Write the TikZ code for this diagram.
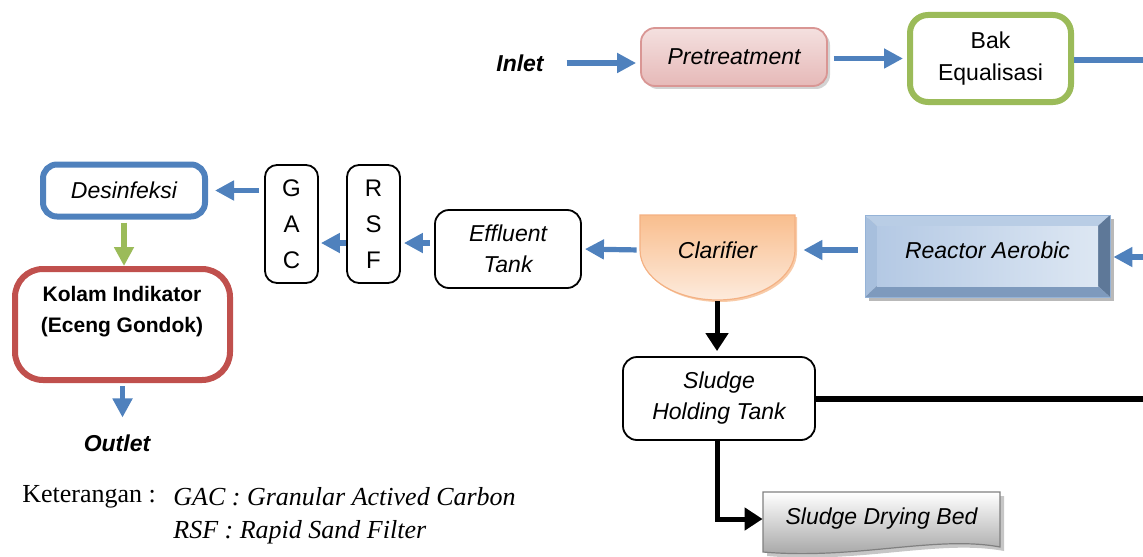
\documentclass[tikz,border=0pt]{standalone}
\usepackage{fontspec}
\setmainfont{Liberation Sans}
\newfontfamily\ketfont{Liberation Serif}
\usetikzlibrary{arrows.meta,shadows}

\definecolor{flowblue}{HTML}{4F81BD}
\definecolor{eqgreen}{HTML}{9BBB59}
\definecolor{kolamred}{HTML}{C0504D}
\definecolor{pinkborder}{HTML}{D99694}
\definecolor{pinktop}{HTML}{F4E0DF}
\definecolor{pinkbot}{HTML}{E6B9B8}
\definecolor{claredge}{HTML}{F4B183}
\definecolor{clarshadow}{HTML}{F8CBA8}
\definecolor{clardark}{HTML}{F9BE8E}
\definecolor{clarlight}{HTML}{FDEBDD}
\definecolor{reactop}{HTML}{B9CDE5}
\definecolor{reacleft}{HTML}{A7BFDD}
\definecolor{reacright}{HTML}{5E7898}
\definecolor{reacbot}{HTML}{7E9ABD}
\definecolor{reacfaceA}{HTML}{B4C9E4}
\definecolor{reacfaceB}{HTML}{DDE7F3}
\definecolor{reacedge}{HTML}{95B3D7}

\newcommand\procfont{\fontsize{11.5}{15.5}\selectfont\itshape}

\tikzset{
  flow/.style={draw=flowblue, line width=2.6pt, -{Triangle[length=9.5pt,width=9.5pt]}},
  flowline/.style={draw=flowblue, line width=2.6pt},
  sludge/.style={line width=2.5pt, -{Triangle[length=9pt,width=11pt]}},
  sludgeline/.style={line width=3pt},
  proc/.style={draw, line width=0.9pt, rounded corners=7pt, align=center, font=\procfont},
  thickbox/.style={line width=3pt, rounded corners=9pt, fill=white, align=center, font=\procfont},
  filter/.style={draw, line width=0.9pt, rounded corners=6pt, align=center,
    minimum width=26.5pt, minimum height=59pt, inner sep=0pt,
    font=\fontsize{12}{18}\selectfont},
  tag/.style={font=\fontsize{11.5}{14}\selectfont\bfseries\itshape},
  ket/.style={anchor=west, inner sep=0pt, font=\ketfont\fontsize{13}{16}\selectfont},
}

\begin{document}
\begin{tikzpicture}[x=0.5pt,y=-0.5pt]
    \useasboundingbox (0,0) rectangle (1143,556);

    % reactor (bevel)
    \fill[gray!55] (869,219) rectangle (1114,301);
    \fill[reacleft] (865,215) -- (877,226) -- (877,286) -- (865,297) -- cycle;
    \fill[reactop] (865,215) -- (1110,215) -- (1098,226) -- (877,226) -- cycle;
    \fill[reacright] (1110,215) -- (1110,297) -- (1098,286) -- (1098,226) -- cycle;
    \fill[reacbot] (865,297) -- (1110,297) -- (1098,286) -- (877,286) -- cycle;
    \shade[left color=reacfaceA, right color=reacfaceB] (877,226) rectangle (1098,286);
    \draw[reacedge] (865,215) rectangle (1110,297);

    % clarifier
    \fill[clarshadow] (642,217) -- (797,217) -- (797,252) arc[start angle=0,end angle=180,x radius=77.5,y radius=50] -- cycle;
    \shade[top color=clardark, bottom color=clarlight, draw=claredge, line width=0.6pt]
      (640,215) -- (795,215) -- (795,250) arc[start angle=0,end angle=180,x radius=77.5,y radius=50] -- cycle;

    % sludge drying bed
    \fill[gray!45] (767,496) -- (1004,496) -- (1004,551) .. controls (940,539) and (860,564) .. (767,556) -- cycle;
    \shade[top color=white, bottom color=gray!75, draw=gray, line width=0.6pt]
      (763,492) -- (1000,492) -- (1000,547) .. controls (936,535) and (856,560) .. (763,552) -- cycle;

    \node[tag] (inlet) at (520,63) {Inlet};
    \node[proc, draw=pinkborder, top color=pinktop, bottom color=pinkbot,
      drop shadow={opacity=0.35, shadow xshift=1.5pt, shadow yshift=-1.5pt},
      minimum width=93pt, minimum height=29pt] (pre) at (734,57) {Pretreatment};
    \node[thickbox, draw=eqgreen, minimum width=80.5pt, minimum height=43.5pt,
      font=\fontsize{11.5}{16}\selectfont] (bak) at (990.5,58.5) {Bak\\Equalisasi};
    \node[font=\procfont, minimum width=122.5pt, minimum height=41pt] (reac) at (987.5,250) {Reactor Aerobic};
    \node[font=\procfont, minimum width=77.5pt] (clar) at (717.5,250) {Clarifier};
    \node[proc, minimum width=73pt, minimum height=39pt] (eff) at (508,249) {Effluent\\Tank};
    \node[filter] (rsf) at (373.5,224) {R\\S\\F};
    \node[filter] (gac) at (291.5,224) {G\\A\\C};
    \node[thickbox, draw=flowblue, minimum width=81pt, minimum height=26pt, rounded corners=7pt] (des) at (124,190.5) {Desinfeksi};
    \node[thickbox, draw=kolamred, minimum width=107.5pt, minimum height=55.5pt, rounded corners=14pt] (kolam) at (122.5,324.5) {};
    \node[font=\fontsize{10.5}{15.5}\selectfont\bfseries, align=center] (kolamtext) at (122,312) {Kolam Indikator\\(Eceng Gondok)};
    \node[tag] (outlet) at (117,443) {Outlet};
    \node[proc, minimum width=96pt, minimum height=41.5pt] (sht) at (719,398.5) {Sludge\\Holding Tank};
    \node[font=\procfont, minimum width=118.5pt] (sdb) at (881.5,519) {Sludge Drying Bed};

    \node[ket] (ket) at (22,497) {Keterangan :};
    \node[ket, font=\ketfont\itshape\fontsize{13}{16}\selectfont] (ketgac) at (173,497) {GAC : Granular Actived Carbon};
    \node[ket, font=\ketfont\itshape\fontsize{13}{16}\selectfont] (ketrsf) at (173,532) {RSF : Rapid Sand Filter};

    \coordinate (bakout) at (1143,60);
    \coordinate (reacin) at (1143,257);
    \coordinate (clarbot) at (717,301);
    \coordinate (shtout) at (1143,400);
    \coordinate (effout) at ([yshift=3pt]eff.west);

    % water line
    \draw[flow, shorten <=8pt, shorten >=2pt] (inlet.east) -- (pre.west |- inlet.east);
    \draw[flow, shorten <=3pt, shorten >=2pt] (pre.east |- bak.west) -- (bak.west);
    \draw[flowline] (bak.east |- bakout) -- (bakout);
    \draw[flow, shorten >=1.5pt] (reacin) -- (reac.east |- reacin);
    \draw[flow, shorten <=3.5pt, shorten >=4pt] (reac.west) -- (clar.east);
    \draw[flow, shorten <=1.5pt, shorten >=1.5pt] (clar.west) -- (eff.east);
    \draw[flow, shorten <=2pt, shorten >=1.5pt] (effout) -- (effout -| rsf.east);
    \draw[flow, shorten >=1pt] (effout -| rsf.west) -- (effout -| gac.east);
    \draw[flow, shorten <=2.5pt, shorten >=3.5pt] (gac.west |- des.east) -- (des.east);
    \draw[flow, draw=eqgreen, shorten <=1.5pt] (des.south) -- (des.south |- kolam.north);
    \draw[flow, shorten <=1.5pt, shorten >=5pt] (kolam.south) -- (kolam.south |- outlet.north);

    % sludge line
    \draw[sludge, shorten >=2.5pt] (clarbot) -- (clarbot |- sht.north);
    \draw[sludgeline] (sht.east) -- (sht.east -| shtout);
    \draw[sludge] (clarbot |- sht.south) |- (sdb.west);
\end{tikzpicture}
\end{document}
